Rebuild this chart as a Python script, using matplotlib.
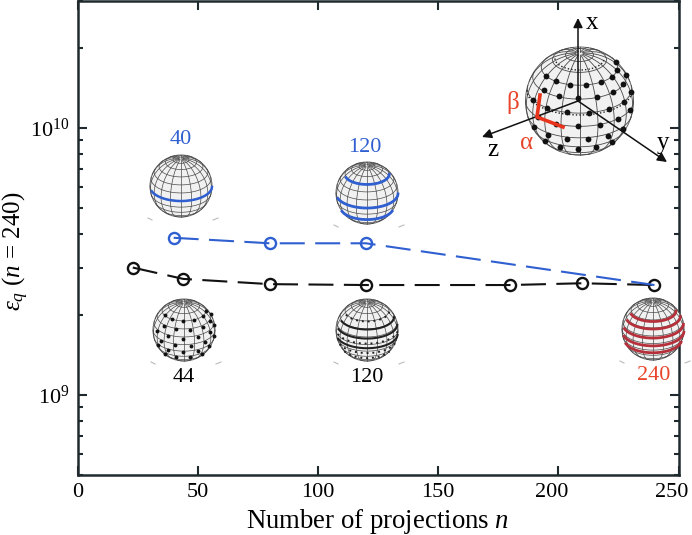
import numpy as np
import matplotlib
matplotlib.use('Agg')
import matplotlib.pyplot as plt
from matplotlib.patches import Circle
from matplotlib.transforms import ScaledTranslation
from matplotlib.ticker import NullFormatter, LogLocator

plt.rcParams['font.family'] = ['Liberation Serif', 'DejaVu Serif']
plt.rcParams['mathtext.fontset'] = 'custom'
plt.rcParams['mathtext.rm'] = 'Liberation Serif'
plt.rcParams['mathtext.it'] = 'Liberation Serif:italic'
plt.rcParams['mathtext.bf'] = 'Liberation Serif:bold'

black_n = [23, 44, 80, 120, 180, 210, 240]
black_eps = [3.0e9, 2.72e9, 2.6e9, 2.58e9, 2.58e9, 2.62e9, 2.58e9]
blue_n = [40, 80, 120, 240]
blue_eps = [3.88e9, 3.7e9, 3.7e9, 2.58e9]

x_ticks = [0, 50, 100, 150, 200, 250]

# latitudes of the sampled rings on each small sphere
rings_blue40 = [-1]
rings_blue120 = [44, -1, -31]
rings_black120 = [29, 12, -8]
rings_black120_sparse = [44, 2, -20, -37]
rings_red240 = [42, 28, 11, -5, -22]

# latitudes and azimuth step of the scattered points
dots_44_lat = [45, 28, 12, -3, -18, -34]
dots_44_step = 30
dots_big_lat = [45, 31, 15, 0, -18, -34]
dots_big_step = 24
dots_big_rings = [63, 13]

DARK = '#1e2a2e'
BLUE = '#2f5fd0'
RED = '#e8452c'
CRIMSON = '#b5303a'
W, H = 692, 535


def project(lat, az, tilt=28):
    lat, az, t = np.radians(lat), np.radians(az), np.radians(tilt)
    x = np.cos(lat) * np.sin(az)
    y = np.sin(lat) * np.cos(t) - np.cos(lat) * np.cos(az) * np.sin(t)
    depth = np.sin(lat) * np.sin(t) + np.cos(lat) * np.cos(az) * np.cos(t)
    return x, y, depth


def draw_sphere(ax, cx, cy, r, grid_lw=0.5, specks=True):
    ax.add_patch(Circle((cx, cy), r, fc='#f1f1f1', ec='#666666', lw=0.7, zorder=3))
    az = np.linspace(-180, 180, 241)
    for lat in np.arange(-75, 76, 15):
        x, y, d = project(lat, az)
        x, y = np.where(d > 0, x, np.nan), np.where(d > 0, y, np.nan)
        ax.plot(cx + r * x, cy - r * y, color='#4a4a4a', lw=grid_lw, zorder=4)
    lats = np.linspace(-80, 86, 120)
    for a in np.arange(-180, 180, 20):
        x, y, d = project(lats, a)
        x, y = np.where(d > 0, x, np.nan), np.where(d > 0, y, np.nan)
        ax.plot(cx + r * x, cy - r * y, color='#4a4a4a', lw=grid_lw, zorder=4)
    if specks:
        ax.plot([cx - r - 2, cx - r + 2], [cy + r + 1, cy + r + 3], color='#bbbbbb', lw=0.8, zorder=2)
        ax.plot([cx + r + 1, cx + r + 6], [cy + r + 3, cy + r + 1], color='#bbbbbb', lw=0.8, zorder=2)


def draw_rings(ax, cx, cy, r, lats, color, lw, az_from=-70, az_to=88, ls='-'):
    az = np.linspace(az_from, az_to, 120)
    for lat in lats:
        x, y, d = project(lat, az)
        x, y = np.where(d > 0, x, np.nan), np.where(d > 0, y, np.nan)
        ax.plot(cx + r * x, cy - r * y, color=color, lw=lw, zorder=5, ls=ls)


def draw_dots(ax, cx, cy, r, lats, step, size):
    for i, lat in enumerate(lats):
        az = np.arange(-62 + (i % 2) * step / 2, 110, step)
        x, y, d = project(lat, az)
        keep = d > 0.02
        ax.plot(cx + r * x[keep], cy - r * y[keep], 'o', color='#111111', ms=size, mew=0, zorder=5)


fig = plt.figure(figsize=(W / 100, H / 100), dpi=100)
ax = fig.add_axes([77.5 / W, (H - 475) / H, 601 / W, 474 / H])

ax.semilogy(black_n, black_eps, color='#111111', ls=(0, (12, 5)), lw=1.5, marker='o',
            ms=8, mfc='none', mec='#111111', mew=1.7, zorder=3)
ax.semilogy(blue_n, blue_eps, color=BLUE, ls=(0, (12, 5)), lw=1.5, zorder=4)
ax.semilogy(blue_n[:-1], blue_eps[:-1], ls='none', marker='o', ms=8, mfc='none',
            mec=BLUE, mew=1.7, zorder=4)

ax.set_xlim(0, 250)
ax.set_ylim(5e8, 3e10)
ax.set_xticks(x_ticks)
ax.yaxis.set_major_locator(LogLocator(base=10, numticks=5))
ax.yaxis.set_minor_locator(LogLocator(base=10, subs=np.arange(2, 10), numticks=5))
ax.yaxis.set_minor_formatter(NullFormatter())
ax.tick_params(which='major', direction='in', length=6.5, width=1.5, top=True, right=True,
               labelsize=16, color=DARK, pad=6)
ax.tick_params(which='minor', direction='in', length=3.5, width=1.5, top=True, right=True, color=DARK)
for s in ax.spines.values():
    s.set_linewidth(1.8)
    s.set_color(DARK)
ax.set_xlabel(r'Number of projections $n$', fontsize=19.3, labelpad=3)
ax.set_ylabel(r'$\varepsilon_q$ ($n$ = 240)', fontsize=18)
ax.yaxis.set_label_coords(-0.078, 0.473)

# the two right tick labels sit a little left of their ticks
for lab in ax.get_xticklabels()[-2:]:
    lab.set_transform(lab.get_transform() + ScaledTranslation(-5 / 72, 0, fig.dpi_scale_trans))

# overlay in pixel coordinates for the sphere insets
ov = fig.add_axes([0, 0, 1, 1])
ov.set_xlim(0, W)
ov.set_ylim(H, 0)
ov.axis('off')
ov.patch.set_alpha(0)

draw_sphere(ov, 181, 186, 31)
draw_rings(ov, 181, 186, 31, rings_blue40, BLUE, 1.8)
draw_sphere(ov, 367, 193, 31)
draw_rings(ov, 367, 193, 31, rings_blue120, BLUE, 2.0)
draw_sphere(ov, 184, 330, 31)
draw_dots(ov, 184, 330, 31, dots_44_lat, dots_44_step, 2.8)
draw_sphere(ov, 367, 330, 31)
draw_rings(ov, 367, 330, 31, rings_black120, '#222222', 1.5)
draw_rings(ov, 367, 330, 31, rings_black120_sparse, '#222222', 1.4, ls=(0, (1, 2)))
draw_sphere(ov, 653, 329, 31)
draw_rings(ov, 653, 329, 31, rings_red240, CRIMSON, 2.0)

draw_sphere(ov, 579.5, 101, 54, grid_lw=0.6, specks=False)
draw_dots(ov, 579.5, 101, 54, dots_big_lat, dots_big_step, 4.2)
draw_rings(ov, 579.5, 101, 54, dots_big_rings, '#222222', 1.0, -90, 90, ls=(0, (1, 1.5)))

arrow = dict(arrowstyle='-|>', color='#111111', lw=1.1, mutation_scale=14, shrinkA=0, shrinkB=0)
for tip in [(578, 18), (482, 137), (667, 162)]:
    ov.annotate('', xy=tip, xytext=(578, 101), arrowprops=arrow, zorder=7)
ov.plot([540, 537, 563], [95, 117, 127], color='#e8341c', lw=2.6, zorder=8, solid_joinstyle='miter')

labels = [
    (592, 23, 'x', 'black', 18), (493, 150, 'z', 'black', 18), (663, 143, 'y', 'black', 18),
    (513, 102, '\u03b2', RED, 18), (527, 143, '\u03b1', RED, 18),
    (181, 139, '40', BLUE, 16), (365, 147, '120', BLUE, 16),
    (184, 378, '44', 'black', 16), (367, 378, '120', 'black', 16), (654, 375, '240', RED, 16),
]
for x, y, s, c, fs in labels:
    ov.text(x, y, s, color=c, fontsize=fs, ha='center', va='center', zorder=9)

fig.savefig('out.png', dpi=100)
